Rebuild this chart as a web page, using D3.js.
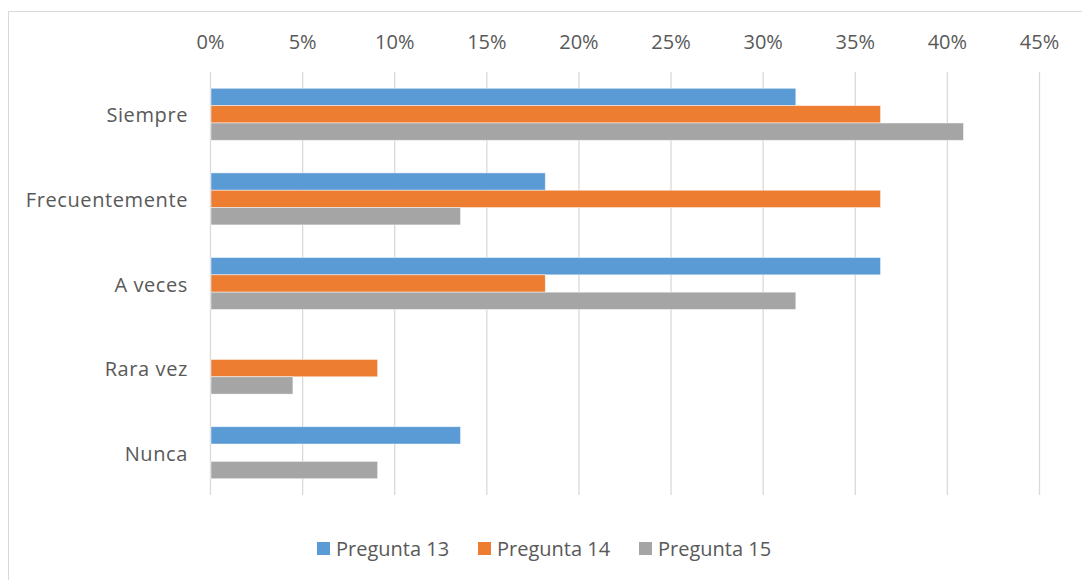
<!DOCTYPE html>
<html>
<head>
<meta charset="utf-8">
<script src="https://cdn.jsdelivr.net/npm/d3@7"></script>
<style>
  body { margin: 0; background: #fff; }
  svg text { font-family: "Open Sans", "Liberation Sans", sans-serif; fill: #595959; }
</style>
</head>
<body>
<div id="chart"></div>
<script>
// categories top to bottom, values per question (share of answers)
var categories = ["Siempre", "Frecuentemente", "A veces", "Rara vez", "Nunca"];
var seriesNames = ["Pregunta 13", "Pregunta 14", "Pregunta 15"];
var pregunta13 = [0.318, 0.182, 0.364, 0, 0.136];
var pregunta14 = [0.364, 0.364, 0.182, 0.091, 0];
var pregunta15 = [0.409, 0.136, 0.318, 0.045, 0.091];
var tickValues = [0, 0.05, 0.10, 0.15, 0.20, 0.25, 0.30, 0.35, 0.40, 0.45];
var colors = ["#5b9bd5", "#ed7d31", "#a5a5a5"];

var W = 1082, H = 580;
var plotLeft = 210, plotRight = 1039, plotTop = 72, plotBottom = 495;
var fontSize = "20px";

var svg = d3.select("#chart").append("svg")
    .attr("width", W)
    .attr("height", H);

// chart area border (cropped on right and bottom like the original)
svg.append("rect")
    .attr("x", 8.5).attr("y", 11.5)
    .attr("width", 1200).attr("height", 700)
    .attr("fill", "none")
    .attr("stroke", "#d9d9d9");

var x = d3.scaleLinear()
    .domain([0, 0.45])
    .range([plotLeft, plotRight]);

var y = d3.scaleBand()
    .domain(categories)
    .range([plotTop, plotBottom])
    .paddingInner(0.385)
    .paddingOuter(0.1925);

var ySub = d3.scaleBand()
    .domain(seriesNames)
    .range([0, y.bandwidth()]);

// vertical gridlines
var grid = svg.append("g")
    .attr("transform", "translate(0," + plotBottom + ")")
    .call(d3.axisBottom(x).tickValues(tickValues).tickSize(-(plotBottom - plotTop)).tickFormat(""));
grid.select(".domain").remove();
grid.selectAll("line").attr("stroke", "#d9d9d9").attr("stroke-width", 1.3);

// percent labels on top
var xAxis = svg.append("g")
    .attr("transform", "translate(0,52)")
    .call(d3.axisTop(x).tickValues(tickValues).tickSize(0).tickFormat(d3.format(".0%")));
xAxis.select(".domain").remove();
xAxis.selectAll("text")
    .style("font-size", fontSize)
    .attr("dy", "0");

// category labels
svg.append("g").selectAll("text")
    .data(categories)
    .enter().append("text")
    .attr("x", 188)
    .attr("y", function(d) { return y(d) + y.bandwidth() / 2 + 1; })
    .attr("dy", "0.35em")
    .style("text-anchor", "end")
    .style("font-size", fontSize)
    .style("letter-spacing", "0.6px")
    .text(function(d) { return d; });

// bars
var table = categories.map(function(c, i) {
  return { cat: c, vals: [pregunta13[i], pregunta14[i], pregunta15[i]] };
});

var groups = svg.append("g").selectAll("g")
    .data(table)
    .enter().append("g")
    .attr("transform", function(d) { return "translate(0," + y(d.cat) + ")"; });

groups.selectAll("rect")
    .data(function(d) {
      return d.vals.map(function(v, j) { return { name: seriesNames[j], value: v, color: colors[j] }; });
    })
    .enter().filter(function(d) { return d.value > 0; })
    .append("rect")
    .attr("x", x(0) + 1)
    .attr("y", function(d) { return ySub(d.name); })
    .attr("width", function(d) { return x(d.value) - x(0) - 1; })
    .attr("height", ySub.bandwidth())
    .attr("fill", function(d) { return d.color; })
    .attr("stroke", "rgba(255,255,255,0.6)")
    .attr("stroke-width", 0.8);

// legend
var legendX = [317, 478, 639];
var legend = svg.append("g").selectAll("g")
    .data(seriesNames)
    .enter().append("g")
    .attr("transform", function(d, i) { return "translate(" + legendX[i] + ",542)"; });

legend.append("rect")
    .attr("width", 13).attr("height", 13)
    .attr("fill", function(d, i) { return colors[i]; });

legend.append("text")
    .attr("x", 19)
    .attr("y", 6.5)
    .attr("dy", "0.35em")
    .style("font-size", fontSize)
    .text(function(d) { return d; });
</script>
</body>
</html>
